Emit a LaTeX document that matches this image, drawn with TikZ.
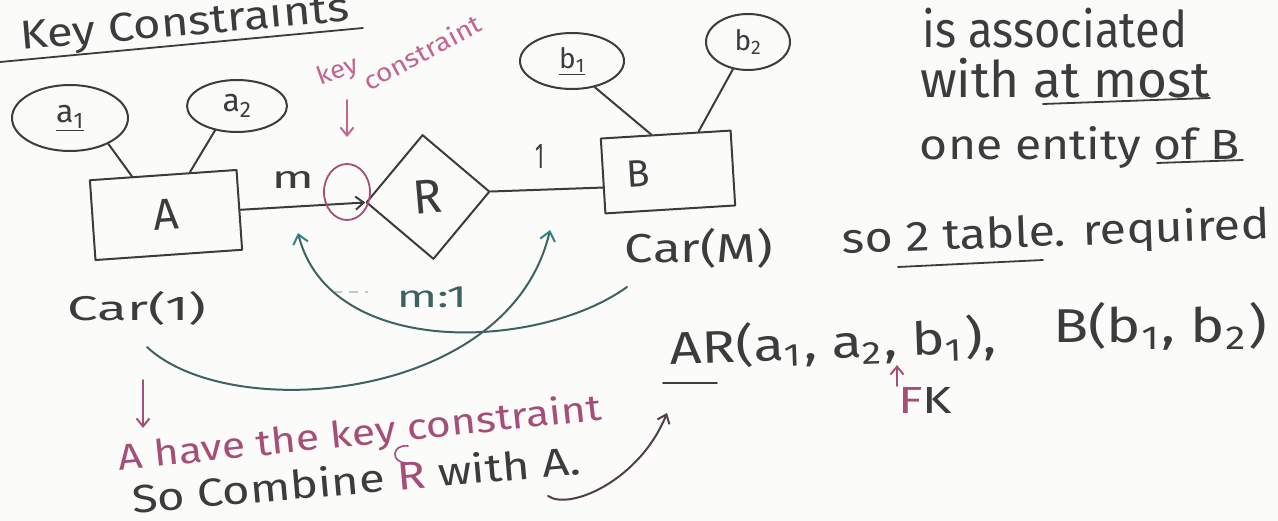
\documentclass[tikz,border=0pt]{standalone}
\usepackage{fontspec}
\setmainfont{Fira Sans}
\usepackage{graphicx}
\usetikzlibrary{shapes.geometric,calc,arrows.meta}

\definecolor{ink}{HTML}{3C3C3C}
\definecolor{rose}{HTML}{A64D78}
\definecolor{lightrose}{HTML}{C2658F}
\definecolor{tealink}{HTML}{3E6262}
\definecolor{tealhead}{HTML}{2C8585}
\definecolor{paper}{HTML}{FBFBFA}

% stretch a piece of handwriting to a given width and total height
\newcommand{\fitbox}[3]{\resizebox*{#1}{#2}{#3}}
\newcommand{\sub}[1]{\textsubscript{#1}}

\begin{document}
\begin{tikzpicture}[x=1pt,y=-1pt,
  pen/.style={draw=ink, line width=2pt, line cap=round, line join=round},
  attr/.style={pen, ellipse, inner sep=0pt, text=ink},
  entity/.style={pen, rectangle, inner sep=0pt, text=ink},
  rel/.style={pen, diamond, inner sep=0pt, text=ink},
  hand/.style={text=ink, inner sep=0pt},
  rosehand/.style={text=rose, inner sep=0pt},
  barb/.style={-{Straight Barb[length=8pt,width=13pt,line width=2pt]}},
  tealbarb/.style={-{Straight Barb[length=9pt,width=15pt,line width=2pt,color=tealhead]}},
  roseline/.style={draw=rose, line width=1.8pt, line cap=round},
  uline/.style={pen, line width=1.8pt}
]
\path[fill=paper] (0,0) rectangle (1278,521);
\useasboundingbox (0,0) rectangle (1278,521);
\clip (0,0) rectangle (1278,521);

% ---- heading ----
\node[hand, rotate=5] (title) at (185,24) {\fitbox{330pt}{40pt}{Key Constraints}};
\draw[uline] (0,62) -- (363,28);

% ---- entity A with its attributes ----
\node[entity, minimum width=147pt, minimum height=80pt, rotate=4,
      font=\fontsize{44}{44}\selectfont] (A) at (166,215) {A};
\node[attr, minimum width=116pt, minimum height=66pt,
      font=\fontsize{32}{32}\selectfont] (a1) at (70,118) {\underline{a\sub{1}}};
\node[attr, minimum width=100pt, minimum height=52pt,
      font=\fontsize{32}{32}\selectfont] (a2) at (237,106) {a\sub{2}};
\draw[pen] (a1.326) -- ($(A.north west)!0.29!(A.north east)$);
\draw[pen] (a2.228) -- ($(A.north west)!0.68!(A.north east)$);

% ---- relationship R ----
\node[rel, minimum width=124pt, minimum height=125pt, rotate=5,
      font=\fontsize{48}{48}\selectfont] (R) at (428,197) {R};

% ---- entity B with its attributes ----
\node[entity, minimum width=130pt, minimum height=75pt, rotate=3.5,
      font=\fontsize{38}{38}\selectfont] (B) at (668,172) {\hspace*{-60pt}B};
\node[attr, minimum width=104pt, minimum height=56pt,
      font=\fontsize{28}{28}\selectfont] (b1) at (572,61) {\underline{b\sub{1}}};
\node[attr, minimum width=84pt, minimum height=56pt,
      font=\fontsize{28}{28}\selectfont] (b2) at (748,42) {b\sub{2}};
\draw[pen] (b1.311) -- ($(B.north west)!0.39!(B.north east)$);
\draw[pen] (b2.241) -- ($(B.north west)!0.75!(B.north east)$);

% ---- links and cardinalities ----
\draw[pen, barb] (A.east) -- (R.west);
\draw[pen] (R.east) -- ($(B.north west)!0.65!(B.south west)$);
\node[hand] (mlab) at (293,180) {\fitbox{42pt}{17pt}{m}};
\node[hand] (onelab) at (540,157) {\fitbox{9pt}{24pt}{1}};

% key-constraint marker
\node[draw=rose, line width=1.8pt, ellipse, minimum width=46pt, minimum height=56pt,
      inner sep=0pt] (kc) at (347,192) {};
\node[text=lightrose, inner sep=0pt, rotate=20] (kcw1) at (338,72) {\fitbox{42pt}{24pt}{key}};
\node[text=lightrose, inner sep=0pt, rotate=28] (kcw2) at (422,52) {\fitbox{130pt}{20pt}{constraint}};
\coordinate (kcA) at (347,100);
\coordinate (kcB) at (347,137);
\draw[roseline, draw=lightrose, barb] (kcA) -- (kcB);

% ---- cardinality notes ----
\node[hand] (car1) at (137,308) {\fitbox{139pt}{34pt}{Car(1)}};
\node[hand] (carM) at (699,248) {\fitbox{148pt}{40pt}{Car(M)}};
\node[hand, text=tealink] (ratio) at (432,297) {\fitbox{70pt}{21pt}{m:1}};
\draw[gray!45, line width=1.6pt, dash pattern=on 9pt off 7pt] (333,292) -- (368,292);

\coordinate (c1s) at (627,287);
\coordinate (c1e) at (298,233);
\coordinate (c2s) at (147,347);
\coordinate (c2e) at (550,230);
\draw[tealink, line width=2pt, line cap=round, tealbarb]
  (c1s) .. controls (540,350) and (330,360) .. (c1e);
\draw[tealink, line width=2pt, line cap=round, tealbarb]
  (c2s) .. controls (230,425) and (510,402) .. (c2e);

% ---- explanation on the right ----
\node[hand] (t1) at (1055,28) {\fitbox{264pt}{40pt}{is associated}};
\node[hand] (t2) at (1065,78) {\fitbox{290pt}{40pt}{with at most}};
\node[hand] (t3) at (1080,148) {\fitbox{320pt}{42pt}{one entity of B}};
\draw[uline] (1043,104) -- (1210,98);
\draw[uline] (1157,163) -- (1243,160);

\node[hand, rotate=2] (t4) at (1056,234) {\fitbox{427pt}{42pt}{so 2 table. required}};
\draw[uline] (898,267) -- (1043,260);

% ---- resulting tables ----
\node[hand, rotate=2] (tabAR) at (833,343) {\fitbox{326pt}{46pt}{AR(a\sub{1}, a\sub{2}, b\sub{1}),}};
\node[hand] (tabB) at (1160,326) {\fitbox{214pt}{48pt}{B(b\sub{1}, b\sub{2})}};
\draw[uline] (663,383) -- (717,383);
\coordinate (fkA) at (897,386);
\coordinate (fkB) at (897,365);
\draw[roseline, barb] (fkA) -- (fkB);
\node[inner sep=0pt] (fk) at (925,400)
  {\fitbox{54pt}{26pt}{\textcolor{rose}{F}\textcolor{ink}{K}}};

% ---- conclusion in red ink ----
\coordinate (dnA) at (143,380);
\coordinate (dnB) at (143,428);
\draw[roseline, barb] (dnA) -- (dnB);
\node[rosehand, rotate=6] (concl) at (360,435) {\fitbox{485pt}{36pt}{A have the key constraint}};
\draw[roseline, line width=1.6pt] (408,446) .. controls (392,444) and (390,462) .. (406,463);
\node[hand, rotate=5] (comb) at (356,479)
  {\fitbox{450pt}{31pt}{So Combine \textcolor{rose}{R} with A.}};
\coordinate (crA) at (548,496);
\coordinate (crB) at (667,413);
\draw[draw=ink!80!rose, line width=2pt, line cap=round, barb]
  (crA) .. controls (570,511) and (640,480) .. (crB);
\end{tikzpicture}
\end{document}
